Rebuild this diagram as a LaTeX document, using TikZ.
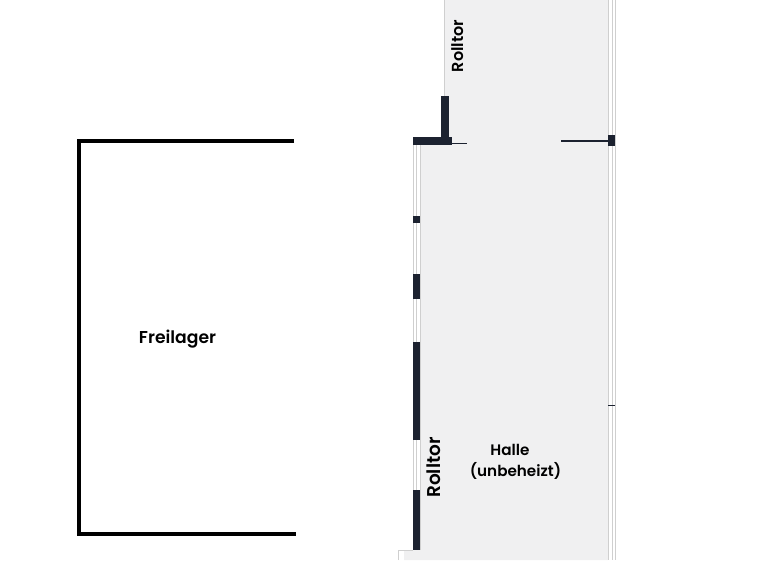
\documentclass[tikz,border=0pt]{standalone}
\usepackage{fontspec}
\setmainfont{Poppins}[UprightFont=*-SemiBold]
\definecolor{wallc}{HTML}{1C2230}
\definecolor{floorc}{HTML}{F0F0F1}
\definecolor{linec}{HTML}{CFCFCF}
\tikzset{
  wallblock/.style={fill=wallc,draw=none},
  floorarea/.style={fill=floorc,draw=none},
  thinline/.style={draw=linec,line width=1pt},
  fence/.style={draw=black,line width=4pt,line cap=butt,line join=miter},
  thinwall/.style={draw=wallc,line width=1.8pt},
  lbl/.style={text=black,inner sep=0pt,align=center}
}
\begin{document}
\begin{tikzpicture}[x=1pt,y=-1pt]
\useasboundingbox (0,0) rectangle (768,560);
% floor
\fill[floorarea] (444.5,0) -- (608,0) -- (608,560) -- (404,560) -- (404,550) -- (420,550) -- (420,141) -- (444.5,141) -- cycle;
% thin outlines
\draw[thinline] (444.5,0) -- (444.5,96);
\draw[thinline] (608,0) -- (608,560);
\draw[thinline] (612,0) -- (612,560);
\draw[thinline] (615,0) -- (615,560);
\draw[thinline] (413,145) -- (413,550);
\draw[thinline] (416.5,145) -- (416.5,550);
\draw[thinline] (420,145) -- (420,550);
\draw[thinline] (398,560) -- (398,550.5) -- (413,550.5);
% Freilager
\draw[fence] (294,140.7) -- (79,140.7) -- (79,533.5) -- (296,533.5);
% walls
\fill[wallblock] (441,96) rectangle (448.5,140);
\fill[wallblock] (412.5,137) rectangle (452,145);
\draw[thinwall] (452,143.5) -- (467,143.5);
\draw[thinwall] (561,141) -- (608,141);
\fill[wallblock] (607.5,135) rectangle (615,146);
\draw[thinwall] (608,405.5) -- (615,405.5);
\fill[wallblock] (412.5,215.5) rectangle (420,222.5);
\fill[wallblock] (412.5,274) rectangle (420,299);
\fill[wallblock] (412.5,342) rectangle (420,440);
\fill[wallblock] (412.5,490) rectangle (420,550);
% labels
\node[lbl,font=\fontsize{17.2}{21}\selectfont] (freilager) at (177.5,339.5) {Freilager};
\node[lbl,font=\fontsize{15.2}{20.5}\selectfont] (halle) at (515.5,462) {Halle\hspace*{11pt}\\(unbeheizt)};
\node[lbl,rotate=90,font=\fontsize{16}{19}\selectfont] (rolltorA) at (458,46) {Rolltor};
\node[lbl,rotate=90,font=\fontsize{18.5}{23}\selectfont] (rolltorB) at (434,467.5) {Rolltor};
\end{tikzpicture}
\end{document}
